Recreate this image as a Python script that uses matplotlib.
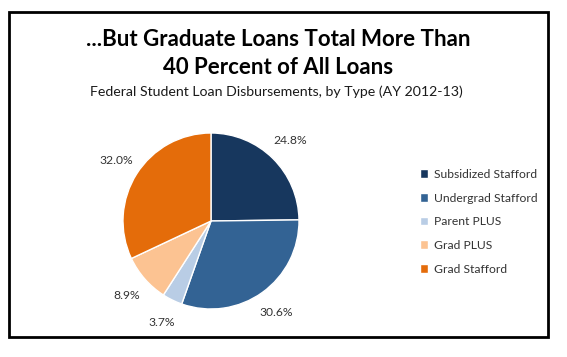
import matplotlib
matplotlib.use("Agg")
import matplotlib.pyplot as plt
from matplotlib.patches import Rectangle

categories = ["Subsidized Stafford", "Undergrad Stafford", "Parent PLUS", "Grad PLUS", "Grad Stafford"]
values = [24.8, 30.6, 3.7, 8.9, 32.0]
colors = ["#17375E", "#336394", "#B9CDE5", "#FCC392", "#E46C0A"]
title_line1 = "...But Graduate Loans Total More Than"
title_line2 = "40 Percent of All Loans"
subtitle = "Federal Student Loan Disbursements, by Type (AY 2012-13)"

W, H = 567, 357
fig = plt.figure(figsize=(W / 100, H / 100), dpi=100)
fig.patch.set_facecolor("white")
font = "Lato"

# border
fig.add_artist(Rectangle((9 / W, 1 - 337 / H), (548 - 9) / W, (337 - 12) / H,
                         transform=fig.transFigure, fill=False, edgecolor="black", linewidth=2))

fig.text(278 / W, 1 - 40 / H, title_line1, ha="center", va="center", fontsize=16,
         fontweight="bold", family=font)
fig.text(278 / W, 1 - 68 / H, title_line2, ha="center", va="center", fontsize=16,
         fontweight="bold", family=font)
fig.text(276 / W, 1 - 92 / H, subtitle, ha="center", va="center", fontsize=10.2,
         family=font, color="#1a1a1a")

cx, cy, r = 211, 221, 88
ax = fig.add_axes([(cx - r) / W, 1 - (cy + r) / H, 2 * r / W, 2 * r / H])
wedges, texts, autotexts = ax.pie(values, colors=colors, startangle=90, counterclock=False,
                                  autopct="%.1f%%", pctdistance=1.28,
                                  wedgeprops=dict(edgecolor="white", linewidth=1),
                                  textprops=dict(fontsize=8.7, family=font, color="#333333"))
ax.set_xlim(-1, 1)
ax.set_ylim(-1, 1)
ax.set_aspect("equal")
ax.axis("off")

leg = fig.legend(wedges, categories, loc="upper left", bbox_to_anchor=(409 / W, 1 - 158 / H),
                 frameon=False, handlelength=0.7, handleheight=0.7,
                 labelspacing=1.05, handletextpad=0.45, prop=dict(family=font, size=8.7))
for t in leg.get_texts():
    t.set_color("#333333")

fig.savefig("out.png", dpi=100)
